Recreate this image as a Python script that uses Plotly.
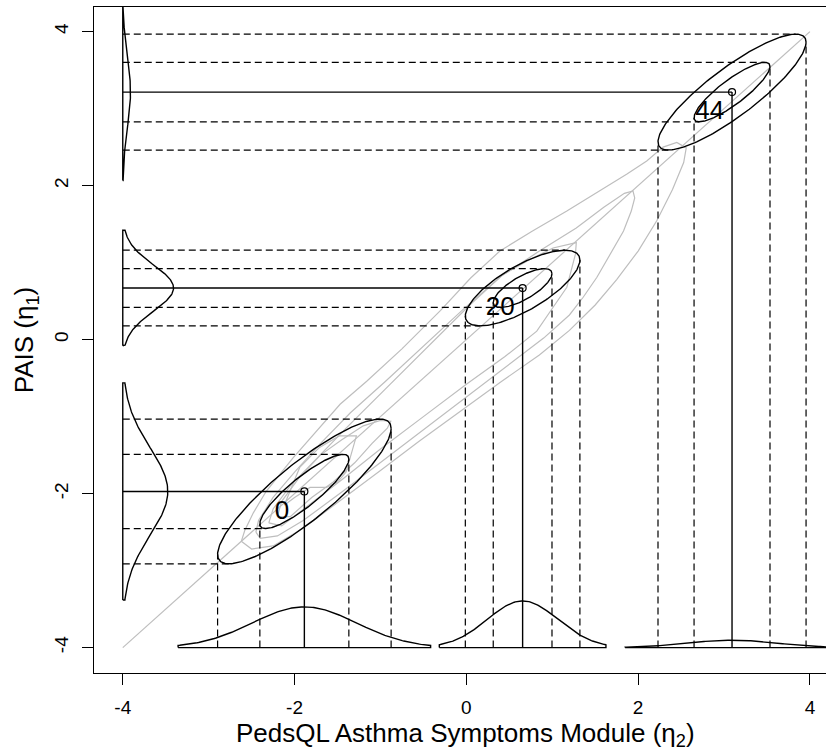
import numpy as np
import plotly.graph_objects as go

# ---------------- data ----------------
time_labels = ["0", "20", "44"]
mean_x = [-1.886, 0.655, 3.093]
mean_y = [-1.972, 0.670, 3.215]
sd_x = [0.518, 0.342, 0.442]
sd_y = [0.482, 0.252, 0.386]
rho = [0.87, 0.74, 0.86]
ellipse_levels = [1.0, 1.95]

dens_sd_x = [0.605, 0.41, 0.52]
dens_sd_y = [0.57, 0.30, 0.455]
dens_peak_x = [0.529, 0.606, 0.096]
dens_peak_y = [0.524, 0.591, 0.090]
dens_half_range_x = [1.47, 0.97, 1.245]
dens_half_range_y = [1.41, 0.75, 1.15]

axis_min = -4.0
axis_max = 4.0
tick_vals = [-4, -2, 0, 2, 4]

# grey contour paths (traced)
gray1_x = [-2.62, -2.58, -2.48, -2.33, -2.02, -1.74, -1.47, -1.16, -0.75, -0.30, 0.05, 0.39, 0.77, 1.17, 1.55, 1.87, 2.10, 2.29, 2.45,
           2.56, 2.53, 2.40, 2.22, 2.00, 1.75, 1.50, 1.20, 0.85, 0.40, -0.10, -0.55, -1.00, -1.45, -1.90, -2.25, -2.50, -2.62]
gray1_y = [-2.62, -2.48, -2.25, -1.97, -1.54, -1.19, -0.84, -0.54, -0.12, 0.38, 0.80, 1.15, 1.41, 1.67, 1.93, 2.15, 2.32, 2.50, 2.56,
           2.49, 2.30, 1.95, 1.55, 1.15, 0.78, 0.45, 0.12, -0.20, -0.55, -0.95, -1.32, -1.70, -2.08, -2.45, -2.68, -2.72, -2.62]
gray2_x = [-2.45, -2.42, -2.25, -2.00, -1.70, -1.35, -0.95, -0.50, -0.05, 0.40, 0.85, 1.28, 1.60, 1.84, 1.94,
           1.96, 1.92, 1.83, 1.67, 1.52, 1.36, 1.20, 0.90, 0.50, 0.05, -0.45, -0.95, -1.45, -1.90, -2.20, -2.40, -2.45]
gray2_y = [-2.50, -2.35, -2.05, -1.72, -1.35, -0.95, -0.55, -0.08, 0.38, 0.82, 1.15, 1.45, 1.72, 1.90, 1.93,
           1.84, 1.67, 1.41, 1.11, 0.81, 0.55, 0.32, 0.02, -0.32, -0.70, -1.12, -1.55, -1.98, -2.35, -2.55, -2.58, -2.50]
gray3_x = [-2.30, -2.25, -2.05, -1.75, -1.40, -0.95, -0.54, -0.35, 0.04, 0.42, 0.74, 1.01, 1.28,
           1.27, 1.17, 1.01, 0.82, 0.45, 0.00, -0.50, -1.00, -1.45, -1.90, -2.15, -2.30]
gray3_y = [-2.38, -2.20, -1.90, -1.55, -1.15, -0.65, -0.20, 0.02, 0.45, 0.84, 1.04, 1.19, 1.26,
           1.11, 0.68, 0.42, 0.11, -0.22, -0.58, -1.00, -1.42, -1.82, -2.20, -2.42, -2.38]
gray4_x = [-2.20, -2.15, -1.95, -1.70, -1.45, -1.20, -1.00, -0.88, -0.92, -1.10, -1.30, -1.55, -1.80, -2.05, -2.20]
gray4_y = [-2.30, -2.10, -1.80, -1.50, -1.30, -1.12, -1.05, -1.06, -1.15, -1.35, -1.60, -1.85, -2.05, -2.30, -2.30]
gray5_x = [-2.12, -2.05, -1.94, -1.71, -1.48, -1.28, -1.33, -1.40, -1.50, -1.63, -1.82, -2.00, -2.12]
gray5_y = [-2.15, -1.95, -1.66, -1.40, -1.25, -1.25, -1.45, -1.72, -1.85, -1.92, -1.92, -2.05, -2.15]
gray_paths = [(gray1_x, gray1_y), (gray2_x, gray2_y), (gray3_x, gray3_y), (gray4_x, gray4_y), (gray5_x, gray5_y)]

FONT = "Liberation Sans, Arial, Helvetica, sans-serif"
GRAY = "#bebebe"

fig = go.Figure()

# grey contours
gx, gy = [], []
for px, py in gray_paths:
    gx += list(px) + [None]
    gy += list(py) + [None]
gx += [axis_min, axis_max]
gy += [axis_min, axis_max]
fig.add_trace(go.Scatter(x=gx, y=gy, mode="lines", line=dict(color=GRAY, width=1.2),
                         hoverinfo="skip", showlegend=False))

# ellipses, dashed guides, solid guides, densities
ell_x, ell_y = [], []
dash_x, dash_y = [], []
solid_x, solid_y = [], []
den_x, den_y = [], []
t = np.linspace(0, 2 * np.pi, 241)
for i in range(len(time_labels)):
    mx, my, sx, sy, r = mean_x[i], mean_y[i], sd_x[i], sd_y[i], rho[i]
    for c in ellipse_levels:
        ex = mx + c * sx * np.cos(t)
        ey = my + c * sy * (r * np.cos(t) + np.sqrt(1 - r * r) * np.sin(t))
        ell_x += list(ex) + [None]
        ell_y += list(ey) + [None]
        for sgn in (1, -1):
            dash_x += [axis_min, mx + sgn * c * sx * r, None]
            dash_y += [my + sgn * c * sy, my + sgn * c * sy, None]
            dash_x += [mx + sgn * c * sx, mx + sgn * c * sx, None]
            dash_y += [axis_min, my + sgn * c * sy * r, None]
    solid_x += [axis_min, mx, None, mx, mx, None]
    solid_y += [my, my, None, axis_min, my, None]
    xs = np.linspace(mx - dens_half_range_x[i], mx + dens_half_range_x[i], 161)
    hs = dens_peak_x[i] * np.exp(-((xs - mx) ** 2) / (2 * dens_sd_x[i] ** 2))
    den_x += [xs[0]] + list(xs) + [xs[-1], xs[0], None]
    den_y += [axis_min] + list(axis_min + hs) + [axis_min, axis_min, None]
    ys = np.linspace(my - dens_half_range_y[i], my + dens_half_range_y[i], 161)
    ws = dens_peak_y[i] * np.exp(-((ys - my) ** 2) / (2 * dens_sd_y[i] ** 2))
    den_x += [axis_min] + list(axis_min + ws) + [axis_min, axis_min, None]
    den_y += [ys[0]] + list(ys) + [ys[-1], ys[0], None]

fig.add_trace(go.Scatter(x=dash_x, y=dash_y, mode="lines",
                         line=dict(color="black", width=1.2, dash="7px,4px"),
                         hoverinfo="skip", showlegend=False))
fig.add_trace(go.Scatter(x=solid_x, y=solid_y, mode="lines", line=dict(color="black", width=1.4),
                         hoverinfo="skip", showlegend=False))
fig.add_trace(go.Scatter(x=den_x, y=den_y, mode="lines", line=dict(color="black", width=1.4),
                         hoverinfo="skip", showlegend=False))
fig.add_trace(go.Scatter(x=ell_x, y=ell_y, mode="lines", line=dict(color="black", width=1.4),
                         hoverinfo="skip", showlegend=False))
fig.add_trace(go.Scatter(x=mean_x, y=mean_y, mode="markers",
                         marker=dict(symbol="circle-open", size=7, color="black", line=dict(width=1.2)),
                         hoverinfo="skip", showlegend=False))

LAB_DX, LAB_DY = -0.26, -0.27
fig.add_trace(go.Scatter(x=[m + LAB_DX for m in mean_x], y=[m + LAB_DY for m in mean_y],
                         mode="text", text=time_labels,
                         textfont=dict(family=FONT, size=26, color="black"),
                         hoverinfo="skip", showlegend=False))

axis_common = dict(showgrid=False, zeroline=False, showline=True, linecolor="black", linewidth=1.3,
                   ticks="outside", ticklen=11, tickwidth=1.3, tickcolor="black", automargin=False,
                   tickvals=tick_vals, ticktext=[str(v) for v in tick_vals],
                   tickfont=dict(family=FONT, size=19, color="black"))

fig.update_layout(
    width=826, height=750,
    margin=dict(l=94, r=0, t=7, b=77, autoexpand=False),
    paper_bgcolor="white", plot_bgcolor="white",
    xaxis=dict(range=[-4.335, 4.187], mirror=True, ticklabelstandoff=6, **axis_common),
    yaxis=dict(range=[-4.33, 4.32], mirror=False, tickangle=-90, ticklabelstandoff=6, **axis_common),
    annotations=[
        dict(text="PedsQL Asthma Symptoms Module (η<sub>2</sub>)", xref="paper", yref="paper",
             x=0.508, y=-0.092, xanchor="center", yanchor="middle", showarrow=False,
             font=dict(family=FONT, size=26, color="black")),
        dict(text="PAIS (η<sub>1</sub>)", xref="paper", yref="paper", textangle=-90,
             x=-0.094, y=0.5, xanchor="center", yanchor="middle", showarrow=False,
             font=dict(family=FONT, size=26, color="black")),
    ],
)

fig.write_html("out.html", config={"displayModeBar": False},
               post_script="document.body.style.margin='0px';document.body.style.overflow='hidden';")
